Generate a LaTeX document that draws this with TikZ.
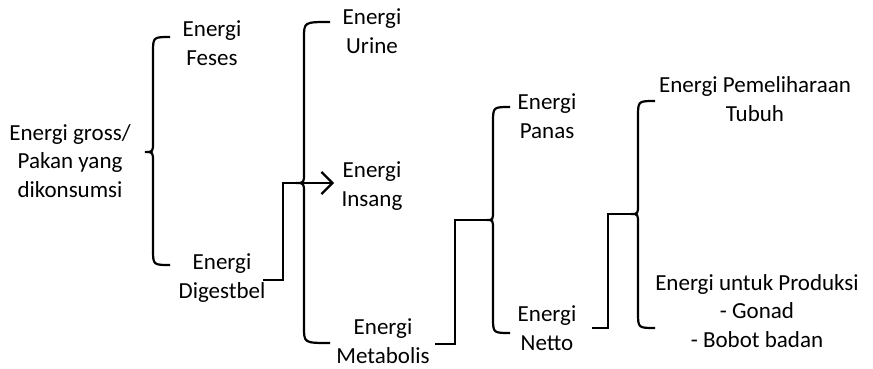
\documentclass[tikz,border=0pt]{standalone}
\usepackage{fontspec}
\setmainfont{Carlito}
\usetikzlibrary{arrows.meta}
\tikzset{
  ln/.style={line width=2.2pt, line join=miter},
  lbl/.style={inner sep=0pt, align=center, font=\fontsize{23}{28.5}\selectfont},
}
% brace: tipx, vertical x, cusp x, top y, mid y, bottom y, name of cusp
\newcommand{\mybrace}[7]{%
  \coordinate (#7) at (#3,#5);
  \draw[ln] (#1,#4) .. controls (#2,#4) .. (#2,#4+16) -- (#2,#5-10)
    .. controls (#2,#5) .. (#7) .. controls (#2,#5) .. (#2,#5+10)
    -- (#2,#6-16) .. controls (#2,#6) .. (#1,#6);}
\begin{document}
\begin{tikzpicture}[x=1pt,y=-1pt]
\useasboundingbox (0,0) rectangle (873,369);
% labels
\node[lbl] (gross)  at (70,161)  {Energi gross/\\Pakan yang\\dikonsumsi};
\node[lbl] (feses)  at (212,43)  {Energi\\Feses};
\node[lbl] (digest) at (222,278) {Energi\\Digestbel};
\node[lbl] (urine)  at (372,31)  {Energi\\Urine};
\node[lbl] (insang) at (372,186) {Energi\\Insang};
\node[lbl] (metab)  at (383,341) {Energi\\Metabolis};
\node[lbl] (panas)  at (547,116) {Energi\\Panas};
\node[lbl] (netto)  at (547,328) {Energi\\Netto};
\node[lbl] (pemel)  at (755,99)  {Energi Pemeliharaan\\Tubuh};
\node[lbl] (prod)   at (757,311) {Energi untuk Produksi\\- Gonad\\- Bobot badan};
% braces
\mybrace{170}{153}{145}{37}{152}{265}{c1}
\mybrace{330}{304}{296}{22}{183}{343}{c2}
\mybrace{510}{493}{487}{107}{220}{333}{c3}
\mybrace{655}{638}{631}{101}{214}{328}{c4}
% connector end points
\coordinate (dgo) at (263,280);
\coordinate (mto) at (435,344);
\coordinate (nto) at (592,328);
\coordinate (ins) at (334,183);
% connectors
\draw[ln] (dgo) -| (283,183) -- (c2);
\draw[ln] (mto) -| (455,220) -- (c3);
\draw[ln] (nto) -| (608,214) -- (c4);
\draw[ln, -{Straight Barb[length=11pt,width=22pt]}] (c2) -- (ins);
\end{tikzpicture}
\end{document}
